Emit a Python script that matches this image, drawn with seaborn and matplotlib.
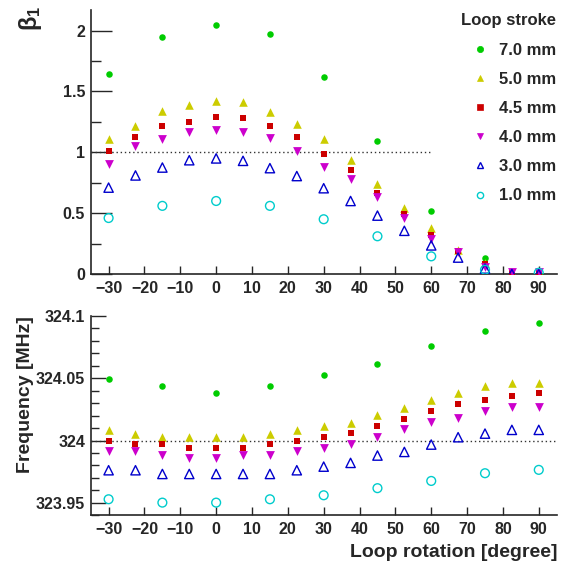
import numpy as np
import pandas as pd
import matplotlib
matplotlib.use("Agg")
import matplotlib.pyplot as plt
from matplotlib.lines import Line2D
from matplotlib.ticker import MultipleLocator, NullLocator
import seaborn as sns

# === data ===
rot_fine = [-30, -22.5, -15, -7.5, 0, 7.5, 15, 22.5, 30, 37.5, 45, 52.5, 60, 67.5, 75, 82.5, 90]
rot_coarse = [-30, -15, 0, 15, 30, 45, 60, 75, 90]

# beta_1 (coupling) per loop stroke
beta_70 = [1.64, 1.95, 2.05, 1.97, 1.62, 1.09, 0.52, 0.13, 0.00]
beta_50 = [1.11, 1.22, 1.34, 1.39, 1.42, 1.41, 1.33, 1.23, 1.11, 0.94, 0.74, 0.54, 0.375, 0.20, 0.09, 0.01, 0.01]
beta_45 = [1.01, 1.13, 1.22, 1.25, 1.29, 1.28, 1.22, 1.13, 0.99, 0.855, 0.665, 0.49, 0.32, 0.19, 0.08, 0.015, 0.01]
beta_40 = [0.90, 1.05, 1.11, 1.17, 1.18, 1.17, 1.12, 1.01, 0.88, 0.78, 0.635, 0.46, 0.29, 0.18, 0.06, 0.02, 0.02]
beta_30 = [0.71, 0.81, 0.875, 0.935, 0.95, 0.93, 0.87, 0.805, 0.705, 0.60, 0.48, 0.355, 0.235, 0.135, 0.045, 0.0, 0.0]
beta_10 = [0.46, 0.56, 0.60, 0.56, 0.45, 0.31, 0.145, 0.035, 0.01]

# resonance frequency [MHz] per loop stroke
freq_70 = [324.0498, 324.0440, 324.0380, 324.0440, 324.0530, 324.0616, 324.0763, 324.0879, 324.0940]
freq_50 = [324.0086, 324.0056, 324.0030, 324.0030, 324.0030, 324.0030, 324.0056, 324.0086, 324.0115,
           324.0145, 324.0204, 324.0263, 324.0322, 324.0378, 324.0437, 324.0466, 324.0466]
freq_45 = [324.0000, 323.9971, 323.9970, 323.9944, 323.9944, 323.9944, 323.9970, 324.0000, 324.0030,
           324.0059, 324.0118, 324.0177, 324.0236, 324.0295, 324.0325, 324.0354, 324.0380]
freq_40 = [323.9917, 323.9917, 323.9888, 323.9859, 323.9859, 323.9888, 323.9888, 323.9917, 323.9944,
           323.9973, 324.0032, 324.0092, 324.0150, 324.0180, 324.0239, 324.0268, 324.0268]
freq_30 = [323.9762, 323.9762, 323.9732, 323.9732, 323.9732, 323.9732, 323.9732, 323.9762, 323.9791,
           323.9821, 323.9880, 323.9909, 323.9968, 324.0027, 324.0056, 324.0086, 324.0086]
freq_10 = [323.9529, 323.9502, 323.9502, 323.9529, 323.9561, 323.9618, 323.9676, 323.9738, 323.9765]

strokes = ["7.0 mm", "5.0 mm", "4.5 mm", "4.0 mm", "3.0 mm", "1.0 mm"]
rotations = [rot_coarse, rot_fine, rot_fine, rot_fine, rot_fine, rot_coarse]
betas = [beta_70, beta_50, beta_45, beta_40, beta_30, beta_10]
freqs = [freq_70, freq_50, freq_45, freq_40, freq_30, freq_10]

# style per stroke: colour, marker, filled, size
colors = ["#00cc00", "#cccc00", "#cc0000", "#cc00cc", "#0000cc", "#00cccc"]
markers = ["o", "^", "s", "v", "^", "o"]
filled = [True, True, True, True, False, False]
sizes = [22, 38, 22, 40, 45, 40]

frames = []
for s, r, b, f in zip(strokes, rotations, betas, freqs):
    frames.append(pd.DataFrame({"stroke": s, "rotation": r, "beta": b, "freq": f}))
df = pd.concat(frames, ignore_index=True)

sns.set_style("ticks")
plt.rcParams["font.family"] = ["Liberation Sans", "DejaVu Sans"]
plt.rcParams["font.weight"] = "bold"
plt.rcParams["mathtext.fontset"] = "custom"
plt.rcParams["mathtext.rm"] = "Liberation Sans"
plt.rcParams["mathtext.it"] = "Liberation Sans"

fig = plt.figure(figsize=(5.65, 5.64), dpi=100)
ax1 = fig.add_axes([0.1605, 0.5142, 0.8248, 0.4681])
ax2 = fig.add_axes([0.1605, 0.0863, 0.8248, 0.3534])


def draw(ax, col):
    for s, c, m, fl, sz in zip(strokes, colors, markers, filled, sizes):
        sub = df[df["stroke"] == s]
        if fl:
            sns.scatterplot(data=sub, x="rotation", y=col, marker=m, color=c,
                            edgecolor=c, linewidth=0, s=sz, ax=ax, zorder=3)
        else:
            sns.scatterplot(data=sub, x="rotation", y=col, marker=m, color=c,
                            facecolor="none", edgecolor=c, linewidth=1.0, s=sz, ax=ax, zorder=3)


draw(ax1, "beta")
draw(ax2, "freq")

ax1.hlines(1.0, -35, 60, colors="#333333", linestyles=(0, (1, 2)), linewidth=1.0, zorder=1)
ax2.hlines(324.0, -35, 95, colors="#333333", linestyles=(0, (1, 2)), linewidth=1.0, zorder=1)

ax1.set_xlim(-35, 95)
ax1.set_ylim(0, 2.17)
ax2.set_xlim(-35, 95)
ax2.set_ylim(323.94, 324.1)

ax1.set_yticks([0, 0.5, 1, 1.5, 2])
ax1.set_yticklabels(["0", "0.5", "1", "1.5", "2"])
ax1.yaxis.set_minor_locator(MultipleLocator(0.25))
ax2.set_yticks([323.95, 324.0, 324.05, 324.1])
ax2.set_yticklabels(["323.95", "324", "324.05", "324.1"])
ax2.yaxis.set_minor_locator(MultipleLocator(0.01))

for ax, ymaj, ymin in [(ax1, 15, 7.5), (ax2, 11, 5.5)]:
    ax.xaxis.set_major_locator(MultipleLocator(10))
    ax.xaxis.set_minor_locator(NullLocator())
    ax.set_xlabel("")
    ax.set_ylabel("")
    sns.despine(ax=ax)
    for sp in ["left", "bottom"]:
        ax.spines[sp].set_linewidth(1.2)
    ax.tick_params(axis="x", which="major", direction="in", length=6, width=1,
                   labelsize=11.5, pad=5)
    ax.tick_params(axis="y", which="major", direction="in", length=ymaj, width=1,
                   labelsize=11.5, pad=4)
    ax.tick_params(axis="y", which="minor", direction="in", length=ymin, width=1, left=True)
    for lab in ax.get_xticklabels() + ax.get_yticklabels():
        lab.set_fontweight("bold")
    ax.set_facecolor("white")
    if ax.get_legend() is not None:
        ax.get_legend().remove()

# legend
handles = []
for s, c, m, fl in zip(strokes, colors, markers, filled):
    handles.append(Line2D([], [], linestyle="none", marker=m, color=c,
                          markerfacecolor=c if fl else "none", markeredgecolor=c,
                          markersize=4.5, markeredgewidth=1.0 if not fl else 0.5, label=s))
leg = ax1.legend(handles=handles, title="Loop stroke", loc="upper right",
                 bbox_to_anchor=(1.02, 1.025), frameon=False, fontsize=12,
                 title_fontproperties={"weight": "bold", "size": 12},
                 labelspacing=0.85, handletextpad=0.6, handlelength=1.0,
                 alignment="right", borderaxespad=0.2)

fig.text(30 / 565, 1 - 6 / 564, r"$\mathrm{\beta_{1}}$", rotation=90, ha="center", va="top",
         fontsize=17, fontweight="normal")
fig.text(26 / 565, 1 - 316 / 564, "Frequency [MHz]", rotation=90, ha="center", va="top",
         fontsize=14, fontweight="bold")
fig.text(557 / 565, 1 - 544 / 564, "Loop rotation [degree]", ha="right", va="top",
         fontsize=14, fontweight="bold")

fig.savefig("out.png", dpi=100, facecolor="white")
